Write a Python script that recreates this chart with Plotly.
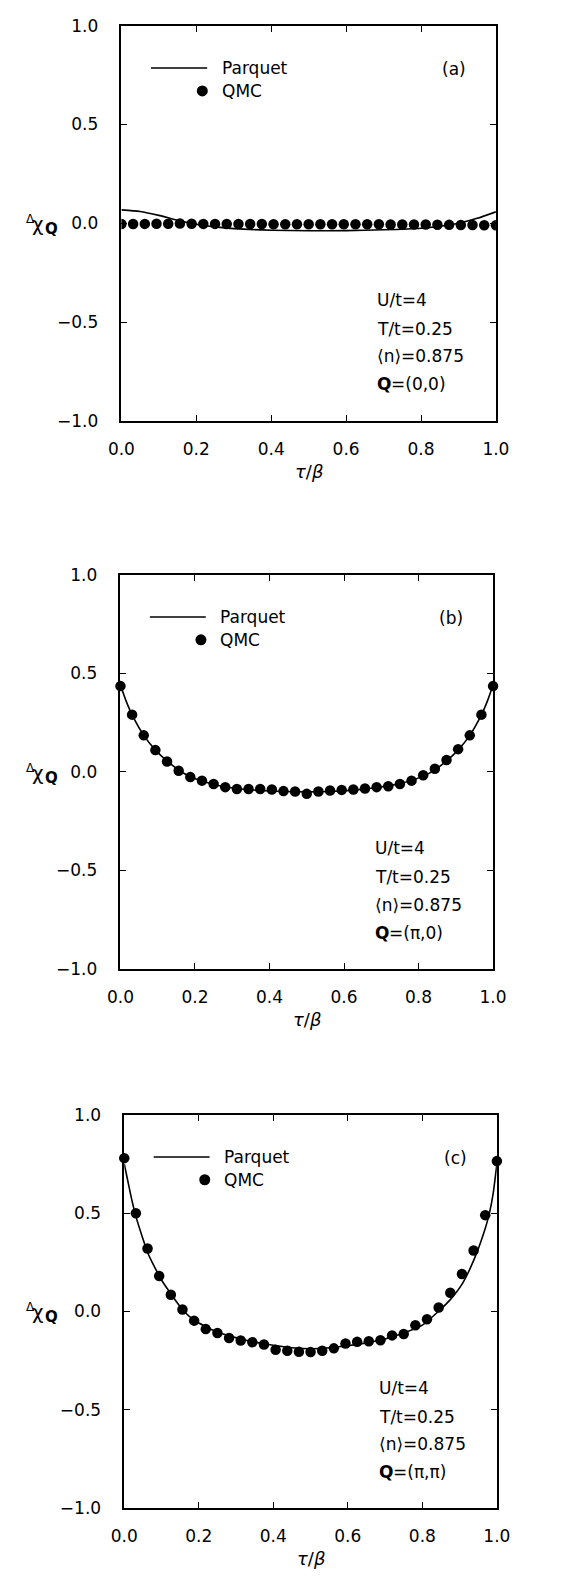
import plotly.graph_objects as go

W, H = 566, 1589
FONT = "DejaVu Sans"
FS = 17

# imaginary-time grid of the QMC points (tau/beta)
tau_qmc = [i / 32 for i in range(33)]

# ---- panel (a): Q = (0,0)
qmc_a = [-0.004, -0.004, -0.003, -0.002, -0.002, -0.001, -0.002, -0.003, -0.003, -0.004,
         -0.004, -0.004, -0.004, -0.005, -0.005, -0.005, -0.005, -0.005, -0.005, -0.005,
         -0.005, -0.005, -0.005, -0.006, -0.006, -0.006, -0.006, -0.007, -0.008, -0.009,
         -0.009, -0.010, -0.010]
parquet_tau_a = [0.0, 0.05, 0.1, 0.15, 0.2, 0.25, 0.3, 0.4, 0.5, 0.6, 0.7, 0.8, 0.85, 0.9, 0.95, 1.0]
parquet_a = [0.068, 0.060, 0.040, 0.015, -0.005, -0.018, -0.027, -0.035, -0.038, -0.037,
             -0.033, -0.025, -0.015, 0.000, 0.025, 0.058]

# ---- panel (b): Q = (pi,0)
qmc_b = [0.435, 0.290, 0.185, 0.110, 0.052, 0.005, -0.027, -0.045, -0.062, -0.078,
         -0.087, -0.087, -0.087, -0.090, -0.098, -0.100, -0.112, -0.100, -0.095, -0.092,
         -0.090, -0.085, -0.078, -0.073, -0.062, -0.045, -0.018, 0.015, 0.060, 0.115,
         0.185, 0.290, 0.435]
parquet_tau_b = [0.0, 0.015, 0.031, 0.0625, 0.094, 0.125, 0.156, 0.1875, 0.25, 0.3125,
                 0.375, 0.4375, 0.5, 0.5625, 0.625, 0.6875, 0.75, 0.8125, 0.844, 0.875,
                 0.906, 0.9375, 0.969, 0.985, 1.0]
parquet_b = [0.440, 0.360, 0.290, 0.185, 0.110, 0.055, 0.010, -0.025, -0.065, -0.085,
             -0.095, -0.100, -0.102, -0.100, -0.093, -0.080, -0.060, -0.022, 0.010, 0.055,
             0.110, 0.185, 0.290, 0.360, 0.440]

# ---- panel (c): Q = (pi,pi)
qmc_c = [0.780, 0.500, 0.320, 0.180, 0.085, 0.010, -0.047, -0.090, -0.110, -0.135,
         -0.148, -0.157, -0.168, -0.195, -0.200, -0.205, -0.207, -0.200, -0.188, -0.163,
         -0.155, -0.152, -0.147, -0.122, -0.115, -0.070, -0.040, 0.020, 0.095, 0.190,
         0.310, 0.490, 0.765]
parquet_tau_c = [0.0, 0.01, 0.02, 0.031, 0.05, 0.0625, 0.075, 0.1, 0.125, 0.156, 0.1875,
                 0.25, 0.3125, 0.375, 0.45, 0.5, 0.55, 0.6, 0.65, 0.7, 0.75, 0.8, 0.843,
                 0.875, 0.907, 0.94, 0.97, 0.98, 0.99, 1.0]
parquet_c = [0.750, 0.660, 0.570, 0.485, 0.370, 0.300, 0.250, 0.160, 0.090, 0.010, -0.045,
             -0.105, -0.140, -0.165, -0.185, -0.190, -0.185, -0.175, -0.160, -0.140, -0.110,
             -0.070, 0.000, 0.060, 0.140, 0.270, 0.430, 0.500, 0.600, 0.750]

panel_letters = ["(a)", "(b)", "(c)"]
q_labels = ["=(0,0)", "=(π,0)", "=(π,π)"]
info_lines = ["U/t=4", "T/t=0.25", "⟨n⟩=0.875"]

qmc_series = [qmc_a, qmc_b, qmc_c]
parquet_x = [parquet_tau_a, parquet_tau_b, parquet_tau_c]
parquet_y = [parquet_a, parquet_b, parquet_c]

# plot-area boxes in pixels: (left, right, top, bottom)
boxes = [(113, 507, 16, 416), (112, 504, 572, 971), (116, 508, 1119, 1517)]
clip_markers = [True, False, False]

fig = go.Figure()
layout = dict(
    width=W, height=H,
    margin=dict(l=0, r=0, t=0, b=0),
    paper_bgcolor="white", plot_bgcolor="white",
    showlegend=False,
    font=dict(family=FONT, size=FS, color="black"),
)
annotations = []
shapes = []


def note(text, x, y, xref="paper", yref="paper", xanchor="left", size=FS, weight="normal"):
    annotations.append(dict(text=text, xref=xref, yref=yref, x=x, y=y,
                            xanchor=xanchor, yanchor="middle", showarrow=False,
                            font=dict(family=FONT, size=size, color="black", weight=weight)))


for k in range(3):
    n = "" if k == 0 else str(k + 1)
    xa, ya = "x" + n, "y" + n
    left, right, top, bottom = boxes[k]
    xdom = [left / W, right / W]
    ydom = [1 - bottom / H, 1 - top / H]

    fig.add_trace(go.Scatter(
        x=parquet_x[k], y=parquet_y[k], mode="lines",
        line=dict(color="black", width=1.6, shape="spline", smoothing=0.6),
        xaxis=xa, yaxis=ya, name="Parquet"))
    fig.add_trace(go.Scatter(
        x=tau_qmc, y=qmc_series[k], mode="markers", marker=dict(color="black", size=10.5),
        cliponaxis=clip_markers[k], xaxis=xa, yaxis=ya, name="QMC"))

    axis_common = dict(
        showline=True, linecolor="black", linewidth=1.5, mirror="ticks",
        ticks="inside", ticklen=6, tickwidth=1.3, tickcolor="black",
        showgrid=False, zeroline=False, tickformat=".1f",
        tickfont=dict(family=FONT, size=FS, color="black"),
    )
    layout["xaxis" + n] = dict(axis_common, domain=xdom, range=[0, 1],
                               tickvals=[0, 0.2, 0.4, 0.6, 0.8, 1.0],
                               anchor=ya, ticklabelstandoff=12)
    layout["yaxis" + n] = dict(axis_common, domain=ydom, range=[-1, 1],
                               tickvals=[-1, -0.5, 0, 0.5, 1],
                               anchor=xa, ticklabelstandoff=18)

    xd, yd = xa + " domain", ya + " domain"

    # legend: line sample, dot sample and labels
    shapes.append(dict(type="line", xref=xd, yref=yd, x0=0.079, x1=0.229, y0=0.893, y1=0.893,
                       line=dict(color="black", width=1.4)))
    shapes.append(dict(type="circle", xref=xd, yref=yd, xsizemode="pixel", ysizemode="pixel",
                       xanchor=0.216, yanchor=0.835, x0=-5.5, x1=5.5, y0=-5.5, y1=5.5,
                       fillcolor="black", line=dict(color="black", width=0)))
    note("Parquet", 0.262, 0.893, xd, yd)
    note("QMC", 0.262, 0.835, xd, yd)
    note(panel_letters[k], 0.888, 0.89, xd, yd, xanchor="center")

    # parameter block
    for txt, yy in zip(info_lines, [0.306, 0.232, 0.163]):
        note(txt, 0.678, yy, xd, yd)
    note("Q", 0.678, 0.092, xd, yd, weight="bold")
    note(q_labels[k], 0.678 + 14.5 / (right - left), 0.092, xd, yd)

    # y-axis title: small Delta, chi, bold Q subscript
    zero_px = (top + bottom) / 2
    note("Δ", 10 / W, 1 - (zero_px - 4) / H, size=12)
    note("χ", 17 / W, 1 - (zero_px + 1) / H, size=20)
    note("Q", 31 / W, 1 - (zero_px + 6) / H, size=15, weight="bold")
    # x-axis title
    note("<i>τ</i>/<i>β</i>", (left + right) / 2 / W, 1 - (bottom + 51) / H,
         xanchor="center", size=18)

layout["annotations"] = annotations
layout["shapes"] = shapes
fig.update_layout(**layout)
fig.write_html("out.html")
